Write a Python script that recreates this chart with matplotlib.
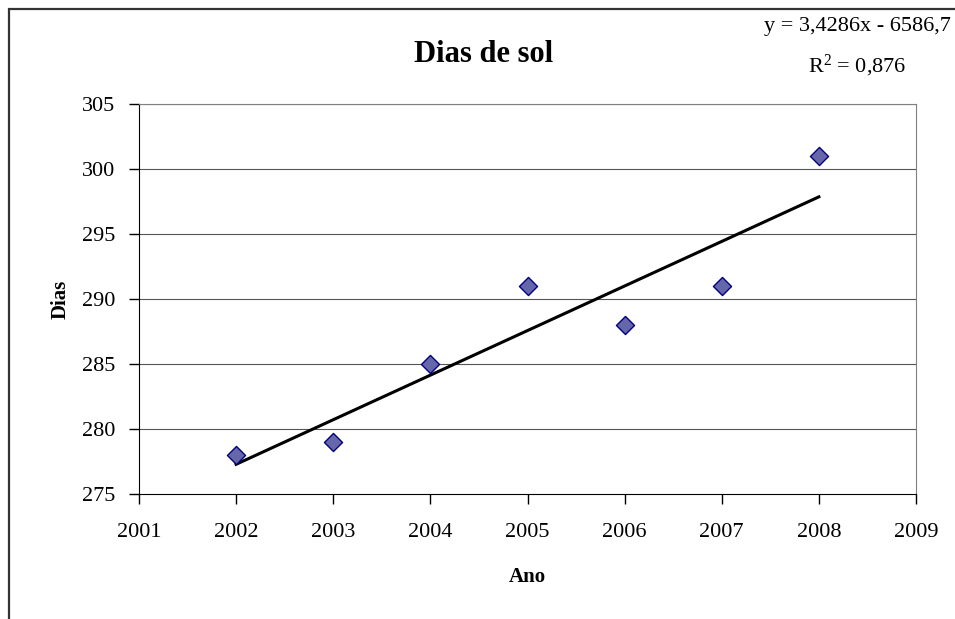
import numpy as np
from matplotlib import pyplot as plt
from matplotlib.patches import Rectangle

anos = [2002, 2003, 2004, 2005, 2006, 2007, 2008]
dias = [278, 279, 285, 291, 288, 291, 301]
xticks = [2001, 2002, 2003, 2004, 2005, 2006, 2007, 2008, 2009]
yticks = [275, 280, 285, 290, 295, 300, 305]

plt.rcParams['font.family'] = ['Liberation Serif', 'DejaVu Serif']

fig = plt.figure(figsize=(9.55, 6.19), dpi=100)
ax = fig.add_axes([139/955, 1 - 494/619, (916 - 139)/955, (494 - 104)/619])

# moldura do grafico (so esquerda e topo aparecem)
fig.patches.append(Rectangle((9/955, -0.1), 1.2, 1 - 9/619 + 0.1, transform=fig.transFigure,
                             fill=False, edgecolor='#333333', lw=1.6, clip_on=False))

for y in yticks[1:]:
    ax.axhline(y, color='#555555', lw=0.8, zorder=1)

# linha de tendencia
a, b = np.polyfit(anos, dias, 1)
xt = np.array([anos[0], anos[-1]])
ax.plot(xt, a * xt + b, color='black', lw=2.2, zorder=2)

ax.scatter(anos, dias, marker='D', s=85, facecolor='#6666aa', edgecolor='#000080',
           linewidth=1, zorder=3)

ax.set_xlim(2001, 2009)
ax.set_ylim(275, 305)
ax.set_xticks(xticks)
ax.set_yticks(yticks)
ax.tick_params(direction='out', length=7, width=1, labelsize=16, color='black')
ax.tick_params(axis='x', pad=14)
ax.tick_params(axis='y', pad=10)

for s in ['top', 'right']:
    ax.spines[s].set_color('#808080')
for s in ['left', 'bottom']:
    ax.spines[s].set_color('black')

ax.set_xlabel('Ano', fontsize=15, fontweight='bold', labelpad=18)
ax.set_ylabel('Dias', fontsize=15, fontweight='bold', labelpad=8)

fig.text(484/955, 1 - 55/619, 'Dias de sol', fontsize=22, fontweight='bold',
         ha='center', va='center')

eq = 'y = %.4fx - %.1f' % (a, -b)
fig.text(857/955, 1 - 27/619, eq.replace('.', ','), fontsize=16, ha='center', va='center')
fig.text(857/955, 1 - 66/619, '$\\mathregular{R^2}$ = 0,876', fontsize=16,
         ha='center', va='center')

fig.savefig('out.png', dpi=100)
